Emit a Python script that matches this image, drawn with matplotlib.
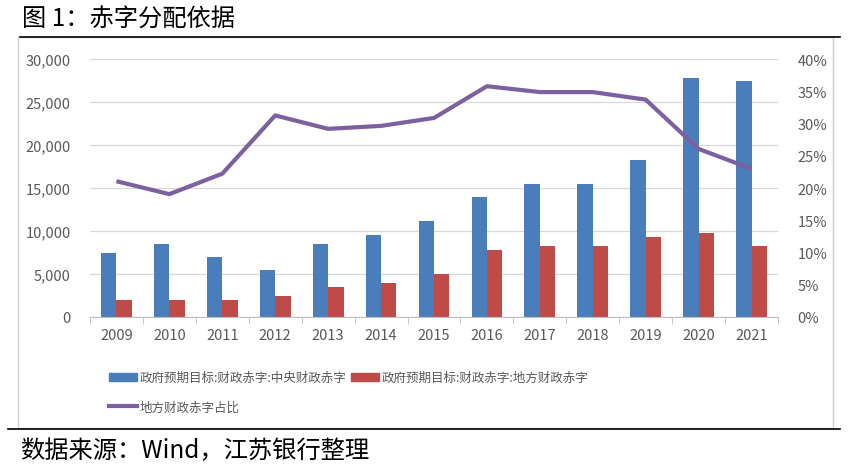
import matplotlib
matplotlib.use("Agg")
import matplotlib.pyplot as plt
from matplotlib.lines import Line2D
from matplotlib.patches import Rectangle
from matplotlib.ticker import FuncFormatter, MultipleLocator
import numpy as np

plt.rcParams['font.family'] = ['Noto Sans CJK SC', 'DejaVu Sans']

# data
years = ['2009', '2010', '2011', '2012', '2013', '2014', '2015',
         '2016', '2017', '2018', '2019', '2020', '2021']
central = [7500, 8500, 7000, 5500, 8500, 9500, 11200, 14000, 15500, 15500, 18300, 27800, 27500]
local = [2000, 2000, 2000, 2500, 3500, 4000, 5000, 7800, 8300, 8300, 9300, 9800, 8200]
local_share = [21.05, 19.05, 22.22, 31.25, 29.17, 29.63, 30.86, 35.78, 34.87, 34.87, 33.70, 26.06, 22.97]

label_central = '政府预期目标:财政赤字:中央财政赤字'
label_local = '政府预期目标:财政赤字:地方财政赤字'
label_share = '地方财政赤字占比'

blue = '#4a7ebb'
red = '#be4b48'
purple = '#7d60a0'
gray_txt = '#595959'
grid_c = '#d9d9d9'

W, H = 854, 477
fig = plt.figure(figsize=(W / 100, H / 100), dpi=100)

def fx(px):
    return px / W

def fy(py):
    return 1 - py / H

# chart frame (gray box) and black rules
fig.patches.append(Rectangle((fx(18), fy(429)), fx(833) - fx(18), fy(38) - fy(429),
                             transform=fig.transFigure, fill=False, edgecolor='#d0d0d0', lw=1))
fig.add_artist(Line2D([fx(20), fx(840)], [fy(38), fy(38)], color='black', lw=1.2))
fig.add_artist(Line2D([fx(8), fx(840)], [fy(430), fy(430)], color='black', lw=1.2))

fig.text(fx(22), fy(20), '图 1：赤字分配依据', fontsize=17.5, va='center', ha='left', color='black')
fig.text(fx(20), fy(451), '数据来源：Wind，江苏银行整理', fontsize=17.5, va='center', ha='left', color='black')

ax = fig.add_axes([fx(90), fy(318), fx(778) - fx(90), fy(60) - fy(318)])
x = np.arange(len(years))
bw = 0.29
ax.bar(x - bw / 2, central, width=bw, color=blue, zorder=2)
ax.bar(x + bw / 2, local, width=bw, color=red, zorder=2)

ax.set_xlim(-0.5, len(years) - 0.5)
ax.set_ylim(0, 30000)
ax.yaxis.set_major_locator(MultipleLocator(5000))
ax.yaxis.set_major_formatter(FuncFormatter(lambda v, p: f'{int(v):,}'))
ax.grid(axis='y', color=grid_c, lw=0.9, zorder=0)
ax.set_axisbelow(True)
for s in ['top', 'right', 'left']:
    ax.spines[s].set_visible(False)
ax.spines['bottom'].set_color('#bfbfbf')
ax.set_xticks(x)
ax.set_xticklabels(years)
ax.set_xticks(np.arange(-0.5, len(years), 1), minor=True)
ax.tick_params(axis='x', which='major', length=0, pad=8, labelsize=10.5, labelcolor=gray_txt)
ax.tick_params(axis='x', which='minor', length=5, color='#bfbfbf')
ax.tick_params(axis='y', length=0, pad=14, labelsize=10.5, labelcolor=gray_txt)

ax2 = ax.twinx()
ax2.plot(x, local_share, color=purple, lw=3, zorder=3, solid_capstyle='butt')
ax2.set_ylim(0, 40)
ax2.yaxis.set_major_locator(MultipleLocator(5))
ax2.yaxis.set_major_formatter(FuncFormatter(lambda v, p: f'{int(v)}%'))
for s in ['top', 'right', 'left', 'bottom']:
    ax2.spines[s].set_visible(False)
ax2.tick_params(axis='y', length=0, pad=14, labelsize=10.5, labelcolor=gray_txt)

# legend: two entries on row one, the line on row two (column-first fill)
h_central = Rectangle((0, 0), 1, 1, color=blue)
h_local = Rectangle((0, 0), 1, 1, color=red)
h_share = Line2D([0], [0], color=purple, lw=3)
leg = fig.legend([h_central, h_share, h_local], [label_central, label_share, label_local], ncol=2,
                 loc='upper left', bbox_to_anchor=(fx(98), fy(361)), frameon=False,
                 fontsize=9, handlelength=2.2, handleheight=0.6, handletextpad=0.25,
                 columnspacing=0.35, labelspacing=1.3)
for t in leg.get_texts():
    t.set_color(gray_txt)

fig.savefig('out.png', dpi=100)
